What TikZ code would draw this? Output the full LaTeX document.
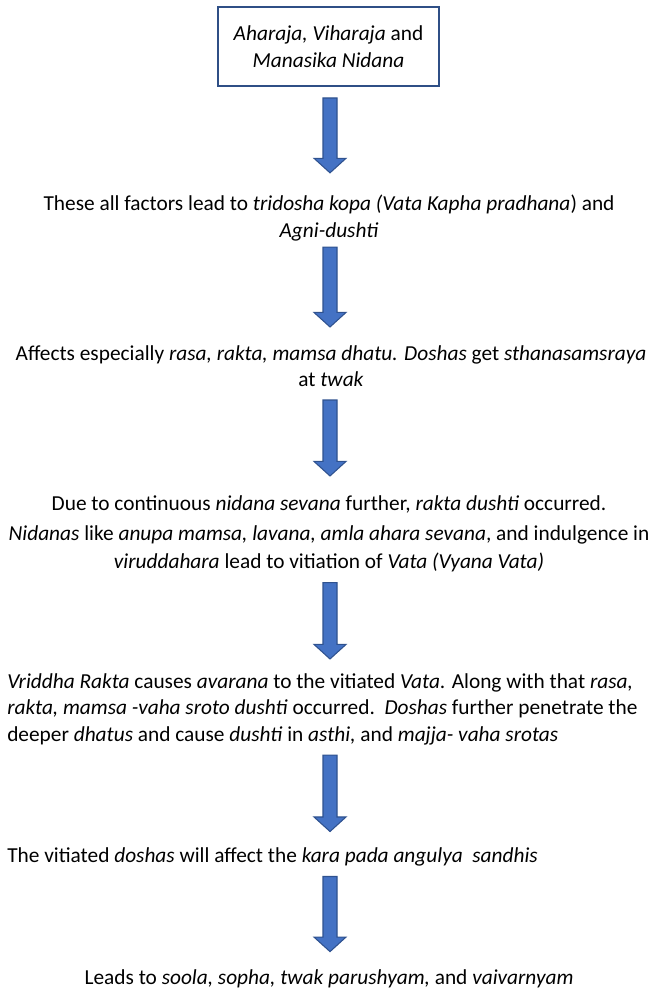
\documentclass[tikz,border=0pt]{standalone}
\usepackage{fontspec}
\setmainfont{Carlito}
\usepackage{tikz}
\usetikzlibrary{positioning}
\usetikzlibrary{calc}

\definecolor{arrowfill}{HTML}{4472C4}
\definecolor{arrowedge}{HTML}{2F528F}
\definecolor{boxedge}{HTML}{2F4F86}

\tikzset{
  flowtext/.style={inner sep=0pt, align=center, font=\fontsize{16pt}{19.9pt}\selectfont},
  lefttext/.style={flowtext, align=left, anchor=west},
  topbox/.style={flowtext, draw=boxedge, line width=1.5pt, minimum width=165.75pt, minimum height=59.25pt},
  flowarrow/.style={fill=arrowfill, draw=arrowedge, line width=0.8pt}
}

% block arrow pointing down, from #1 (top of shaft) to #2 (tip)
\newcommand{\flowarrow}[2]{%
  \path[flowarrow] let \p1=#1, \p2=#2 in
    (\x1-5.25pt,\y1) -- (\x1+5.25pt,\y1) -- (\x1+5.25pt,\y2+10.9pt)
    -- (\x1+12pt,\y2+10.9pt) -- (\x1,\y2) -- (\x1-12pt,\y2+10.9pt)
    -- (\x1-5.25pt,\y2+10.9pt) -- cycle;}

\begin{document}
\begin{tikzpicture}[x=0.75pt, y=-0.75pt]
  \useasboundingbox (0,0) rectangle (652,991);
  \coordinate (axis) at (330,0);

  \node[topbox] (nidana) at (328.5,46.5) {\textit{Aharaja, Viharaja} and\\\textit{Manasika Nidana}};
  \node[flowtext] (kopa) at (329,218) {These all factors lead to \textit{tridosha kopa (Vata Kapha pradhana}) and\\\textit{Agni-dushti}};
  \node[flowtext] (dhatu) at (331,366) {Affects especially \textit{rasa, rakta, mamsa dhatu. Doshas} get \textit{sthanasamsraya}\\at \textit{twak}};
  \node[flowtext] (sevana) at (329,504) {Due to continuous \textit{nidana sevana} further, \textit{rakta dushti} occurred.};
  \node[flowtext] (vata) at (329,549) {\textit{Nidanas} like \textit{anupa mamsa, lavana, amla ahara sevana}, and indulgence in\\[1.5pt]\textit{viruddahara} lead to vitiation of \textit{Vata (Vyana Vata)}};
  \node[lefttext] (avarana) at (7,709) {\textit{Vriddha Rakta} causes \textit{avarana} to the vitiated \textit{Vata}. Along with that \textit{rasa,}\\\textit{rakta, mamsa -vaha sroto dushti} occurred.\ \ \textit{Doshas} further penetrate the\\deeper \textit{dhatus} and cause \textit{dushti} in \textit{asthi,} and \textit{majja- vaha srotas}};
  \node[lefttext] (sandhi) at (7,857) {The vitiated \textit{doshas} will affect the \textit{kara pada angulya\ \ sandhis}};
  \node[flowtext] (lakshana) at (329,979) {Leads to \textit{soola, sopha, twak parushyam,} and \textit{vaivarnyam}};

  \flowarrow{($(nidana.south -| axis)+(0,11)$)}{($(kopa.north -| axis)+(0,-22)$)}
  \flowarrow{($(kopa.south -| axis)+(0,6)$)}{($(dhatu.north -| axis)+(0,-18)$)}
  \flowarrow{($(dhatu.south -| axis)+(0,13)$)}{($(sevana.north -| axis)+(0,-19)$)}
  \flowarrow{($(vata.south -| axis)+(0,10)$)}{($(avarana.north -| axis)+(0,-14)$)}
  \flowarrow{($(avarana.south -| axis)+(0,10)$)}{($(sandhi.north -| axis)+(0,-16)$)}
  \flowarrow{($(sandhi.south -| axis)+(0,10)$)}{($(lakshana.north -| axis)+(0,-18)$)}
\end{tikzpicture}
\end{document}
